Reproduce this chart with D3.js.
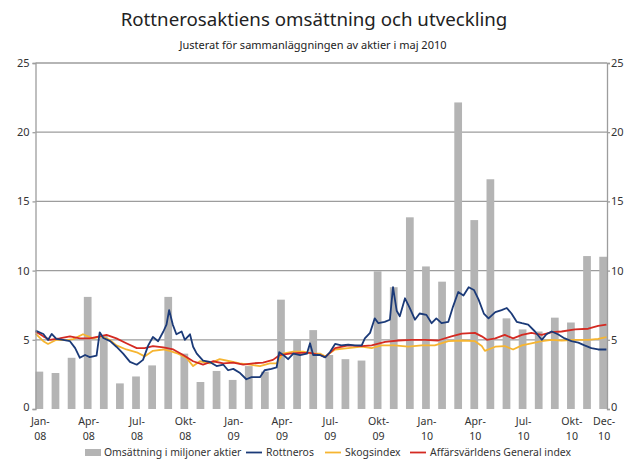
<!DOCTYPE html>
<html lang="sv">
<head>
<meta charset="utf-8">
<title>Rottnerosaktiens omsättning och utveckling</title>
<script src="https://cdnjs.cloudflare.com/ajax/libs/d3/7.8.5/d3.min.js"></script>
<style>
  body { margin:0; background:#fff; }
  svg text { font-family:"Noto Sans", "Open Sans", sans-serif; fill:#333; }
  .title { font-size:18.7px; fill:#222; }
  .subtitle { font-size:11px; fill:#222; }
  .axis text { font-size:11px; }
  .xlab text { font-size:10.6px; }
  .legend text { font-size:10.4px; }
</style>
</head>
<body>
<svg id="chart" width="625" height="462"></svg>
<script>
// monthly turnover, million shares
var months = ["2008-01","2008-02","2008-03","2008-04","2008-05","2008-06","2008-07","2008-08","2008-09","2008-10","2008-11","2008-12",
              "2009-01","2009-02","2009-03","2009-04","2009-05","2009-06","2009-07","2009-08","2009-09","2009-10","2009-11","2009-12",
              "2010-01","2010-02","2010-03","2010-04","2010-05","2010-06","2010-07","2010-08","2010-09","2010-10","2010-11","2010-12"];
var turnover = [2.7, 2.6, 3.7, 8.1, 5.3, 1.85, 2.35, 3.15, 8.1, 4.0, 1.95, 2.75,
                2.1, 3.1, 2.7, 7.9, 5.0, 5.7, 3.9, 3.6, 3.5, 9.95, 8.8, 13.85,
                10.3, 9.2, 22.15, 13.65, 16.6, 6.55, 5.75, 5.6, 6.6, 6.25, 11.05, 11.0];

// x axis tick labels (every third month + Dec-10)
var tickMonths = ["2008-01","2008-04","2008-07","2008-10","2009-01","2009-04","2009-07","2009-10","2010-01","2010-04","2010-07","2010-10","2010-12"];
var tickLabels = [["Jan-","08"],["Apr-","08"],["Jul-","08"],["Okt-","08"],["Jan-","09"],["Apr-","09"],["Jul-","09"],["Okt-","09"],
                  ["Jan-","10"],["Apr-","10"],["Jul-","10"],["Okt-","10"],["Dec-","10"]];
var yTicks = [0, 5, 10, 15, 20, 25];

var rottneros = [
  ["2008-01-01",5.66],["2008-01-16",5.42],["2008-01-25",4.99],["2008-02-01",5.42],["2008-02-10",5.06],["2008-02-23",5.0],
  ["2008-03-07",4.9],["2008-03-17",4.4],["2008-03-26",3.7],["2008-04-05",3.9],["2008-04-14",3.75],["2008-04-27",3.85],
  ["2008-05-03",5.54],["2008-05-10",5.13],["2008-05-23",4.9],["2008-06-04",4.5],["2008-06-17",4.0],["2008-06-30",3.4],
  ["2008-07-13",3.2],["2008-07-25",3.55],["2008-08-04",4.6],["2008-08-13",5.2],["2008-08-23",4.9],["2008-09-02",5.6],
  ["2008-09-08",6.1],["2008-09-13",7.15],["2008-09-20",6.1],["2008-09-27",5.4],["2008-10-07",5.6],["2008-10-13",5.0],
  ["2008-10-23",5.4],["2008-10-29",4.5],["2008-11-05",4.0],["2008-11-17",3.5],["2008-11-30",3.4],["2008-12-13",3.1],
  ["2008-12-26",3.2],["2009-01-04",2.8],["2009-01-14",2.9],["2009-01-27",2.6],["2009-02-08",2.15],["2009-02-18",2.3],
  ["2009-03-06",2.3],["2009-03-15",2.8],["2009-03-28",2.9],["2009-04-07",3.0],["2009-04-12",4.1],["2009-04-20",3.9],
  ["2009-04-29",3.6],["2009-05-09",4.0],["2009-05-22",3.9],["2009-06-04",4.0],["2009-06-10",4.75],["2009-06-16",3.9],
  ["2009-06-29",3.9],["2009-07-09",3.73],["2009-07-18",4.1],["2009-07-28",4.7],["2009-08-09",4.6],["2009-08-22",4.65],
  ["2009-09-04",4.6],["2009-09-17",4.6],["2009-09-23",5.1],["2009-10-03",5.5],["2009-10-12",6.55],["2009-10-19",6.2],
  ["2009-10-31",6.3],["2009-11-10",6.45],["2009-11-16",8.8],["2009-11-23",7.1],["2009-11-29",6.7],["2009-12-09",8.0],
  ["2009-12-18",7.3],["2009-12-28",6.45],["2010-01-06",6.9],["2010-01-19",6.8],["2010-01-29",6.2],["2010-02-07",6.55],
  ["2010-02-17",6.2],["2010-03-02",6.3],["2010-03-11",7.4],["2010-03-21",8.45],["2010-03-31",8.2],["2010-04-10",8.8],
  ["2010-04-20",8.6],["2010-04-29",7.9],["2010-05-09",6.9],["2010-05-18",6.55],["2010-05-31",7.0],["2010-06-12",7.15],
  ["2010-06-22",7.3],["2010-07-01",6.9],["2010-07-11",6.3],["2010-07-21",6.2],["2010-08-02",6.1],["2010-08-15",5.6],
  ["2010-08-28",5.0],["2010-09-06",5.4],["2010-09-16",5.6],["2010-09-28",5.4],["2010-10-11",5.1],["2010-10-24",4.9],
  ["2010-11-06",4.8],["2010-11-18",4.6],["2010-12-01",4.4],["2010-12-14",4.3],["2010-12-30",4.3]
];

var skogsindex = [
  ["2008-01-01",5.45],["2008-01-16",4.9],["2008-01-25",4.7],["2008-02-10",5.0],["2008-03-01",4.98],["2008-03-13",5.05],
  ["2008-04-01",5.4],["2008-04-20",5.1],["2008-05-06",5.25],["2008-05-22",5.0],["2008-06-04",4.6],["2008-06-23",4.3],
  ["2008-07-13",4.1],["2008-07-28",3.8],["2008-08-13",4.2],["2008-09-02",4.3],["2008-09-14",4.2],["2008-09-30",4.0],
  ["2008-10-16",3.7],["2008-10-29",3.1],["2008-11-11",3.45],["2008-11-30",3.3],["2008-12-19",3.6],["2009-01-07",3.45],
  ["2009-01-26",3.3],["2009-02-15",3.2],["2009-03-06",3.1],["2009-03-25",3.3],["2009-04-07",3.3],["2009-04-19",4.0],
  ["2009-05-09",4.15],["2009-05-28",4.15],["2009-06-16",4.0],["2009-06-29",4.0],["2009-07-09",3.8],["2009-07-28",4.3],
  ["2009-08-22",4.4],["2009-09-17",4.5],["2009-10-06",4.4],["2009-10-25",4.6],["2009-11-19",4.6],["2009-12-15",4.5],
  ["2010-01-10",4.6],["2010-02-04",4.6],["2010-03-02",4.9],["2010-03-28",4.95],["2010-04-22",4.9],["2010-05-05",4.55],
  ["2010-05-11",4.2],["2010-05-31",4.5],["2010-06-18",4.55],["2010-07-04",4.3],["2010-07-21",4.6],["2010-08-08",4.75],
  ["2010-08-28",4.9],["2010-09-16",5.0],["2010-10-05",4.95],["2010-10-31",5.0],["2010-11-25",5.0],["2010-12-14",5.07],
  ["2010-12-30",5.2]
];

var generalIndex = [
  ["2008-01-01",5.6],["2008-01-16",5.25],["2008-01-28",5.0],["2008-02-16",5.1],["2008-03-07",5.25],["2008-03-26",5.1],
  ["2008-04-14",5.1],["2008-05-03",5.25],["2008-05-16",5.35],["2008-06-04",5.1],["2008-06-23",4.75],["2008-07-13",4.4],
  ["2008-07-28",4.4],["2008-08-13",4.55],["2008-09-02",4.45],["2008-09-21",4.3],["2008-10-10",3.9],["2008-10-29",3.45],
  ["2008-11-17",3.2],["2008-12-06",3.45],["2008-12-26",3.3],["2009-01-14",3.35],["2009-02-02",3.2],["2009-02-21",3.3],
  ["2009-03-12",3.35],["2009-03-31",3.55],["2009-04-13",3.9],["2009-05-02",4.0],["2009-05-22",4.05],["2009-06-10",4.05],
  ["2009-06-29",3.9],["2009-07-09",3.75],["2009-07-28",4.4],["2009-08-22",4.6],["2009-09-17",4.55],["2009-10-06",4.6],
  ["2009-11-01",4.85],["2009-11-26",4.95],["2009-12-22",5.0],["2010-01-16",5.0],["2010-02-10",4.95],["2010-03-08",5.25],
  ["2010-03-28",5.45],["2010-04-22",5.5],["2010-05-05",5.25],["2010-05-15",5.0],["2010-05-31",5.1],["2010-06-18",5.35],
  ["2010-07-04",5.1],["2010-07-21",5.35],["2010-08-08",5.5],["2010-08-28",5.35],["2010-09-16",5.55],["2010-10-05",5.6],
  ["2010-10-31",5.75],["2010-11-25",5.8],["2010-12-14",6.0],["2010-12-30",6.1]
];

var parseDay = d3.timeParse("%Y-%m-%d");

var svg = d3.select("#chart");
var plotLeft = 35.5, plotRight = 607, plotTop = 63, plotBottom = 409;

// bars: first one flush with the left frame, last one flush with the right frame
var xBar = d3.scaleBand()
  .domain(months)
  .range([plotLeft, plotRight])
  .paddingInner(0.52)
  .paddingOuter(0);

var xTime = d3.scaleTime()
  .domain([parseDay("2008-01-01"), parseDay("2010-12-31")])
  .range([plotLeft, plotRight]);

var y = d3.scaleLinear()
  .domain([0, 25])
  .range([plotBottom, plotTop]);

//Title
svg.append("text").attr("class", "title")
  .attr("x", 314).attr("y", 26)
  .attr("text-anchor", "middle")
  .text("Rottnerosaktiens omsättning och utveckling");
svg.append("text").attr("class", "subtitle")
  .attr("x", 313).attr("y", 49)
  .attr("text-anchor", "middle")
  .text("Justerat för sammanläggningen av aktier i maj 2010");

//Gridlines behind the bars
svg.append("g")
  .selectAll("line")
  .data(yTicks.filter(function(d){ return d > 0; }))
  .enter().append("line")
    .attr("x1", plotLeft).attr("x2", plotRight)
    .attr("y1", function(d){ return y(d); })
    .attr("y2", function(d){ return y(d); })
    .attr("stroke", "#9d9d9d")
    .attr("stroke-width", 1.3);

//Bars
svg.append("g")
  .selectAll("rect")
  .data(turnover)
  .enter().append("rect")
    .attr("x", function(d, i){ return xBar(months[i]); })
    .attr("width", xBar.bandwidth())
    .attr("y", function(d){ return y(d); })
    .attr("height", function(d){ return y(0) - y(d); })
    .attr("fill", "#b4b4b4");

//Lines
var line = d3.line()
  .x(function(d){ return xTime(parseDay(d[0])); })
  .y(function(d){ return y(d[1]); });

svg.append("path").datum(skogsindex)
  .attr("d", line).attr("fill", "none")
  .attr("stroke", "#f6b531").attr("stroke-width", 1.8).attr("stroke-linejoin", "round");
svg.append("path").datum(generalIndex)
  .attr("d", line).attr("fill", "none")
  .attr("stroke", "#d42a22").attr("stroke-width", 1.8).attr("stroke-linejoin", "round");
svg.append("path").datum(rottneros)
  .attr("d", line).attr("fill", "none")
  .attr("stroke", "#1b3a78").attr("stroke-width", 1.8).attr("stroke-linejoin", "round");

//Y axes left and right
var yLeft = svg.append("g").attr("class", "axis")
  .attr("transform", "translate(" + plotLeft + ",0)")
  .call(d3.axisLeft(y).tickValues(yTicks).tickSize(3).tickPadding(3));
var yRight = svg.append("g").attr("class", "axis")
  .attr("transform", "translate(" + plotRight + ",0)")
  .call(d3.axisRight(y).tickValues(yTicks).tickSize(3).tickPadding(1));
[yLeft, yRight].forEach(function(g){
  g.select(".domain").attr("stroke", "#9d9d9d").attr("stroke-width", 1.3);
  g.selectAll(".tick line").attr("stroke", "#9d9d9d").attr("stroke-width", 1.3);
  g.selectAll(".tick text").attr("fill", "#333");
});
// lift the bottom "0" labels a little so they clear the month labels
[yLeft, yRight].forEach(function(g){
  g.selectAll(".tick").filter(function(d){ return d === 0; }).select("text").attr("dy", "0.1em");
});

//X axis labels, two lines each
var xLab = svg.append("g").attr("class", "xlab")
  .selectAll("text")
  .data(tickMonths)
  .enter().append("text")
    .attr("text-anchor", "middle")
    .attr("transform", function(d){ return "translate(" + (xBar(d) + xBar.bandwidth() / 2 + 1) + ",425)"; });
xLab.append("tspan").attr("x", 0).attr("y", 0).text(function(d, i){ return tickLabels[i][0]; });
xLab.append("tspan").attr("x", 0).attr("y", 15).text(function(d, i){ return tickLabels[i][1]; });

//Legend
var legend = svg.append("g").attr("class", "legend").attr("transform", "translate(0,452)");
legend.append("rect").attr("x", 85).attr("y", -3).attr("width", 16).attr("height", 7).attr("fill", "#b4b4b4");
legend.append("text").attr("x", 104).attr("y", 4).text("Omsättning i miljoner aktier");
var legLines = [
  {x: 246, color: "#1b3a78", label: "Rottneros"},
  {x: 325, color: "#f6b531", label: "Skogsindex"},
  {x: 410, color: "#d42a22", label: "Affärsvärldens General index"}
];
legLines.forEach(function(l){
  legend.append("line").attr("x1", l.x).attr("x2", l.x + 16).attr("y1", 0.5).attr("y2", 0.5)
    .attr("stroke", l.color).attr("stroke-width", 1.8);
  legend.append("text").attr("x", l.x + 20).attr("y", 4).text(l.label);
});
</script>
</body>
</html>
